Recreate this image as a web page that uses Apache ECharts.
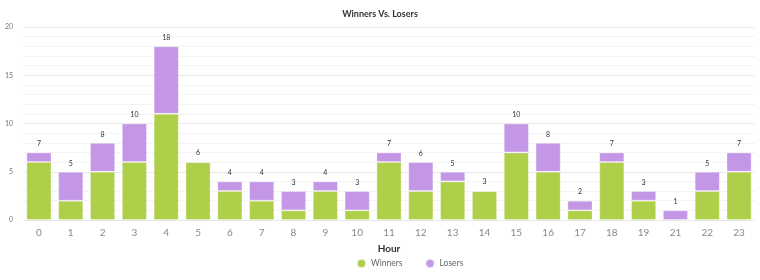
<!DOCTYPE html>
<html>
<head>
<meta charset="utf-8">
<script src="https://cdn.jsdelivr.net/npm/echarts@6/dist/echarts.min.js"></script>
<style>
  html, body { margin: 0; padding: 0; background: #fff; }
  #chart { width: 760px; height: 280px; }
</style>
</head>
<body>
<div id="chart"></div>
<script>
  var hours = ['0', '1', '2', '3', '4', '5', '6', '7', '8', '9', '10', '11', '12', '13', '14', '15', '16', '17', '18', '19', '21', '22', '23'];
  var winners = [6, 2, 5, 6, 11, 6, 3, 2, 1, 3, 1, 6, 3, 4, 3, 7, 5, 1, 6, 2, 0, 3, 5];
  var losers = [1, 3, 3, 4, 7, 0, 1, 2, 2, 1, 2, 1, 3, 1, 0, 3, 3, 1, 1, 1, 1, 2, 2];

  var totals = hours.map(function (h, i) { return winners[i] + losers[i]; });

  var chart = echarts.init(document.getElementById('chart'));

  // bar outline like the original (light dotted edge)
  var edge = { borderColor: 'rgba(255,255,255,0.6)', borderWidth: 1, borderType: 'dotted' };

  var option = {
    animation: false,
    title: {
      text: 'Winners Vs. Losers',
      left: 'center',
      top: 5,
      textStyle: { fontFamily: 'Lato', fontSize: 9, fontWeight: 'bold', color: '#333' }
    },
    legend: {
      bottom: 6,
      left: 351,
      icon: 'circle',
      itemWidth: 9,
      itemHeight: 9,
      itemGap: 22,
      textStyle: { fontFamily: 'Lato', fontSize: 8.5, color: '#666' },
      data: ['Winners', 'Losers']
    },
    grid: { left: 23, right: 5, top: 27, bottom: 60 },
    xAxis: {
      type: 'category',
      data: hours,
      name: 'Hour',
      nameLocation: 'middle',
      nameGap: 24,
      nameTextStyle: { fontFamily: 'Lato', fontSize: 10, fontWeight: 'bold', color: '#333' },
      axisLine: { show: false },
      axisTick: { show: false },
      axisLabel: { fontFamily: 'Lato', fontSize: 10, color: '#888', margin: 8 }
    },
    yAxis: {
      type: 'value',
      min: 0,
      max: 20,
      interval: 5,
      axisLine: { show: false },
      axisTick: { show: false },
      axisLabel: { fontFamily: 'Lato', fontSize: 7, color: '#777', margin: 10 },
      splitLine: { lineStyle: { color: '#e8e8e8', width: 1 } },
      minorTick: { show: false, splitNumber: 5 },
      minorSplitLine: { show: true, lineStyle: { color: '#f3f3f3', width: 1 } }
    },
    series: [
      {
        name: 'Winners',
        type: 'bar',
        stack: 'all',
        barCategoryGap: '21%',
        itemStyle: Object.assign({ color: '#aecf4a' }, edge),
        data: winners
      },
      {
        name: 'Losers',
        type: 'bar',
        stack: 'all',
        itemStyle: Object.assign({ color: '#c396e6' }, edge),
        label: {
          show: true,
          position: 'top',
          distance: 5,
          fontFamily: 'Lato',
          fontSize: 7,
          color: '#333',
          formatter: function (p) { return totals[p.dataIndex]; }
        },
        data: losers
      }
    ]
  };

  chart.setOption(option);
</script>
</body>
</html>
